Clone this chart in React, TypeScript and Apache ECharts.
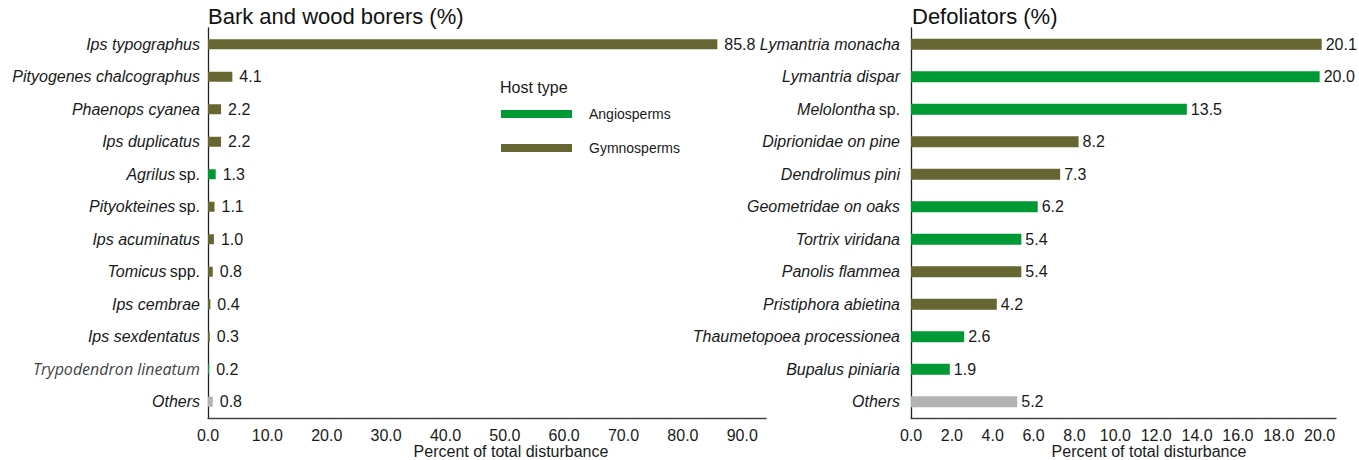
import React, { useEffect, useRef } from "react";
import * as echarts from "echarts";

const barkCategories = [
  "Ips typographus", "Pityogenes chalcographus", "Phaenops cyanea", "Ips duplicatus",
  "Agrilus sp.", "Pityokteines sp.", "Ips acuminatus", "Tomicus spp.", "Ips cembrae",
  "Ips sexdentatus", "Trypodendron lineatum", "Others",
];
const barkValues = [85.8, 4.1, 2.2, 2.2, 1.3, 1.1, 1.0, 0.8, 0.4, 0.3, 0.2, 0.8];
const barkHosts = ["G", "G", "G", "G", "A", "G", "G", "G", "G", "G", "A", "O"];

const defolCategories = [
  "Lymantria monacha", "Lymantria dispar", "Melolontha sp.", "Diprionidae on pine",
  "Dendrolimus pini", "Geometridae on oaks", "Tortrix viridana", "Panolis flammea",
  "Pristiphora abietina", "Thaumetopoea processionea", "Bupalus piniaria", "Others",
];
const defolValues = [20.1, 20.0, 13.5, 8.2, 7.3, 6.2, 5.4, 5.4, 4.2, 2.6, 1.9, 5.2];
const defolHosts = ["G", "A", "A", "G", "G", "A", "A", "G", "G", "A", "A", "O"];

const barkTicks = { min: 0, max: 94, interval: 10 };
const defolTicks = { min: 0, max: 20.8, interval: 2 };

const hostNames: Record<string, string> = { A: "Angiosperms", G: "Gymnosperms", O: "Others" };
const hostColors: Record<string, string> = { A: "#009933", G: "#666633", O: "#b3b3b3" };

const FONT = "'Liberation Sans', Arial, sans-serif";
const TEXT = "#1a1a1a";

function catLabel(v: string) {
  if (v === "Trypodendron lineatum") return "{t|" + v + "}";
  const m = v.match(/^(.*) (spp?\.)$/);
  if (m) return "{i|" + m[1] + "} {n|" + m[2] + "}";
  return "{i|" + v + "}";
}

function buildSeries(values: number[], hosts: string[], gridIdx: number, distance: number, barWidth: number) {
  return ["A", "G", "O"].map((h) => ({
    type: "bar",
    name: hostNames[h],
    xAxisIndex: gridIdx,
    yAxisIndex: gridIdx,
    barWidth,
    barGap: "-100%",
    itemStyle: { color: hostColors[h] },
    label: {
      show: true,
      position: "right",
      distance,
      fontFamily: FONT,
      fontSize: 16,
      color: TEXT,
      formatter: (p: any) => (typeof p.value === "number" ? p.value.toFixed(1) : ""),
    },
    data: values.map((v, i) => (hosts[i] === h ? v : "-")),
  }));
}

const rich = {
  i: { fontFamily: FONT, fontSize: 16, fontStyle: "italic", color: TEXT },
  n: { fontFamily: FONT, fontSize: 16, color: TEXT },
  t: { fontFamily: "'Open Sans', sans-serif", fontSize: 16, fontStyle: "italic", color: "#444" },
};

export default function App() {
  const ref = useRef<HTMLDivElement>(null);
  useEffect(() => {
    if (!ref.current) return;
    const chart = echarts.init(ref.current, undefined, { renderer: "svg" });
    const yAxisBase = {
      type: "category",
      inverse: true,
      axisTick: { show: false },
      axisLine: { lineStyle: { color: "#222", width: 1.3 } },
    };
    const xAxisBase = {
      type: "value",
      splitLine: { show: false },
      axisTick: { show: false },
      axisLine: { show: true, lineStyle: { color: "#444", width: 1.3 } },
      axisLabel: {
        margin: 9,
        fontFamily: FONT,
        fontSize: 16,
        color: TEXT,
        showMaxLabel: false,
        formatter: (v: number) => v.toFixed(1),
      },
    };
    chart.setOption({
      animation: false,
      backgroundColor: "#ffffff",
      grid: [
        { left: 208, right: 1359 - 766, top: 28, bottom: 42, containLabel: false },
        { left: 911, right: 1359 - 1336, top: 28, bottom: 42, containLabel: false },
      ],
      xAxis: [
        { ...xAxisBase, gridIndex: 0, ...barkTicks },
        { ...xAxisBase, gridIndex: 1, ...defolTicks },
      ],
      yAxis: [
        { ...yAxisBase, gridIndex: 0, data: barkCategories, axisLabel: { margin: 8, formatter: catLabel, rich } },
        { ...yAxisBase, gridIndex: 1, data: defolCategories, axisLabel: { margin: 11, formatter: catLabel, rich } },
      ],
      legend: {
        data: ["Angiosperms", "Gymnosperms"],
        orient: "vertical",
        left: 496,
        top: 102,
        icon: "rect",
        itemWidth: 71,
        itemHeight: 8,
        itemGap: 20,
        selectedMode: false,
        textStyle: { fontFamily: FONT, fontSize: 14, color: TEXT, padding: [0, 0, 0, 12] },
      },
      graphic: [
        { type: "text", left: 208, top: 5, style: { text: "Bark and wood borers (%)", font: "22px " + FONT, fill: "#111" } },
        { type: "text", left: 912, top: 5, style: { text: "Defoliators (%)", font: "22px " + FONT, fill: "#111" } },
        { type: "text", left: 500, top: 79, style: { text: "Host type", font: "16px " + FONT, fill: TEXT } },
        { type: "text", x: 511, y: 451, style: { text: "Percent of total disturbance", font: "16px " + FONT, fill: TEXT, textAlign: "center", textVerticalAlign: "middle" } },
        { type: "text", x: 1149, y: 451, style: { text: "Percent of total disturbance", font: "16px " + FONT, fill: TEXT, textAlign: "center", textVerticalAlign: "middle" } },
      ],
      series: [
        ...buildSeries(barkValues, barkHosts, 0, 7, 10),
        ...buildSeries(defolValues, defolHosts, 1, 4, 11),
      ],
    });
    return () => chart.dispose();
  }, []);
  return <div ref={ref} style={{ position: "fixed", left: 0, top: 0, width: 1359, height: 460 }} />;
}
